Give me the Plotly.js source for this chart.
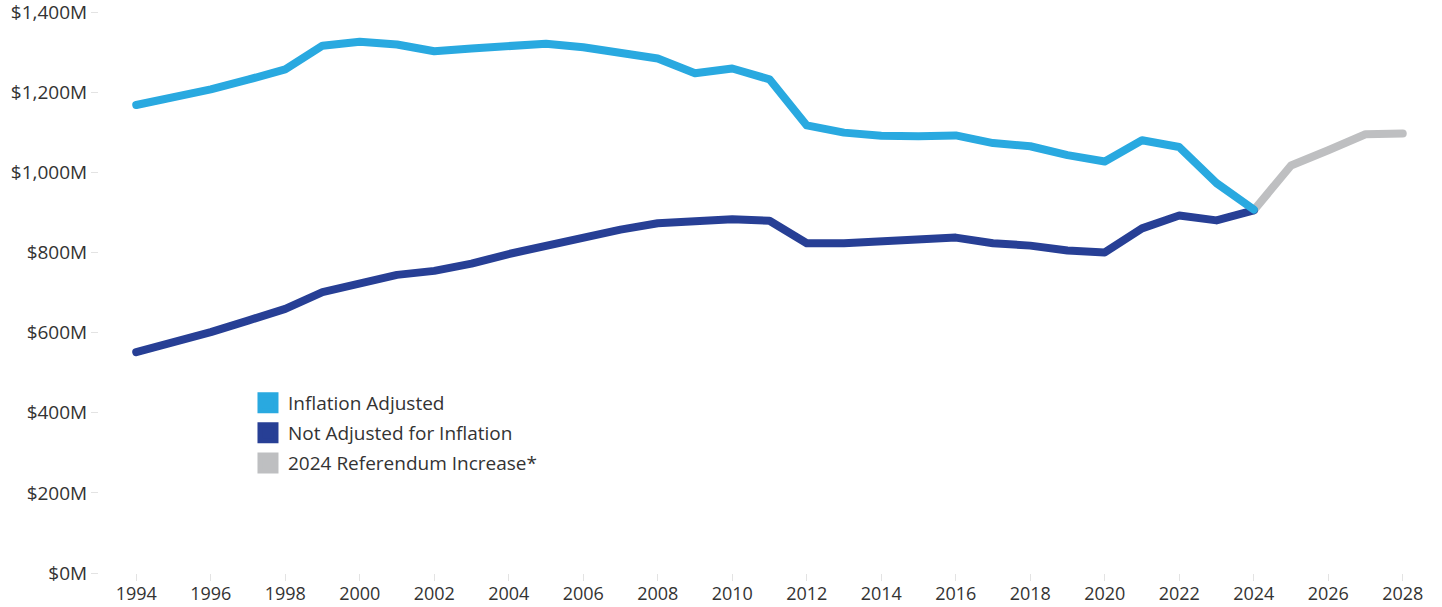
<!DOCTYPE html>
<html>
<head>
<meta charset="utf-8">
<script src="https://cdn.plot.ly/plotly-3.0.1.min.js"></script>
<style>
  html, body { margin: 0; padding: 0; background: #fff; }
  #chart { width: 1442px; height: 607px; }
  .scatterlayer path.js-line { stroke-linecap: round; stroke-linejoin: round; }
</style>
</head>
<body>
<div id="chart"></div>
<script>
// ---- data ----
const years = [1994,1995,1996,1997,1998,1999,2000,2001,2002,2003,2004,2005,2006,2007,2008,2009,
               2010,2011,2012,2013,2014,2015,2016,2017,2018,2019,2020,2021,2022,2023,2024];
const inflationAdjusted = [1168,1186,1207,1231,1257,1316,1326,1319,1302,1309,1316,1321,1312,1299,1284,1247,
                           1259,1232,1117,1099,1091,1090,1092,1073,1065,1043,1027,1080,1063,973,907];
const notAdjusted = [551,574,601,630,659,701,725,744,754,772,796,817,838,857,873,878,
                     883,879,823,823,827,833,837,823,817,805,800,860,892,880,905];
const referendumYears = [2024,2025,2026,2027,2028];
const referendumValues = [905,1017,1055,1095,1097];
const yTickValues = [0,200,400,600,800,1000,1200,1400];
const yTickLabels = ['$0M','$200M','$400M','$600M','$800M','$1,000M','$1,200M','$1,400M'];
const seriesNames = ['Inflation Adjusted','Not Adjusted for Inflation','2024 Referendum Increase*'];
const seriesColors = ['#29a9e0','#273f95','#bebfc1'];

const font = 'Open Sans, Lato, sans-serif';
const textColor = '#333333';

const traces = [
  {x: referendumYears, y: referendumValues, mode: 'lines', line: {color: seriesColors[2], width: 8}, showlegend: false, hoverinfo: 'x+y'},
  {x: years, y: notAdjusted, mode: 'lines', line: {color: seriesColors[1], width: 8}, showlegend: false, hoverinfo: 'x+y'},
  {x: years, y: inflationAdjusted, mode: 'lines', line: {color: seriesColors[0], width: 8}, showlegend: false, hoverinfo: 'x+y'}
];
// legend entries (square swatches)
const legendIds = ['legend','legend2','legend3'];
seriesNames.forEach((n, i) => {
  traces.push({x: [null], y: [null], mode: 'markers', name: n, legend: legendIds[i],
    marker: {symbol: 'square', size: 16, color: seriesColors[i], line: {color: seriesColors[i], width: 5}}, hoverinfo: 'skip'});
});

const legendBase = {x: 0.1111, xanchor: 'left', yanchor: 'middle', bgcolor: 'rgba(0,0,0,0)',
  font: {family: font, size: 19, color: textColor}, borderwidth: 0};

const layout = {
  width: 1442, height: 607,
  margin: {l: 99, r: 2, t: 2, b: 34},
  paper_bgcolor: '#ffffff', plot_bgcolor: '#ffffff',
  font: {family: font, color: textColor},
  xaxis: {
    range: [1993, 2029], tickmode: 'linear', tick0: 1994, dtick: 2,
    showgrid: false, zeroline: false, showline: false,
    ticks: 'outside', ticklen: 7, tickcolor: '#e3e3e3', tickwidth: 1, ticklabelstandoff: -3,
    tickfont: {family: font, size: 18, color: textColor}
  },
  yaxis: {
    range: [0, 1425], tickmode: 'array', tickvals: yTickValues, ticktext: yTickLabels,
    showgrid: false, zeroline: false, showline: false, ticklabeloverflow: 'allow',
    ticks: 'outside', ticklen: 7, tickcolor: '#e3e3e3', tickwidth: 1,
    tickfont: {family: font, size: 19, color: textColor}
  },
  legend: Object.assign({}, legendBase, {y: 0.2977}),
  legend2: Object.assign({}, legendBase, {y: 0.2452}),
  legend3: Object.assign({}, legendBase, {y: 0.1926}),
  showlegend: true
};

Plotly.newPlot('chart', traces, layout, {displayModeBar: false, staticPlot: true});
</script>
</body>
</html>
